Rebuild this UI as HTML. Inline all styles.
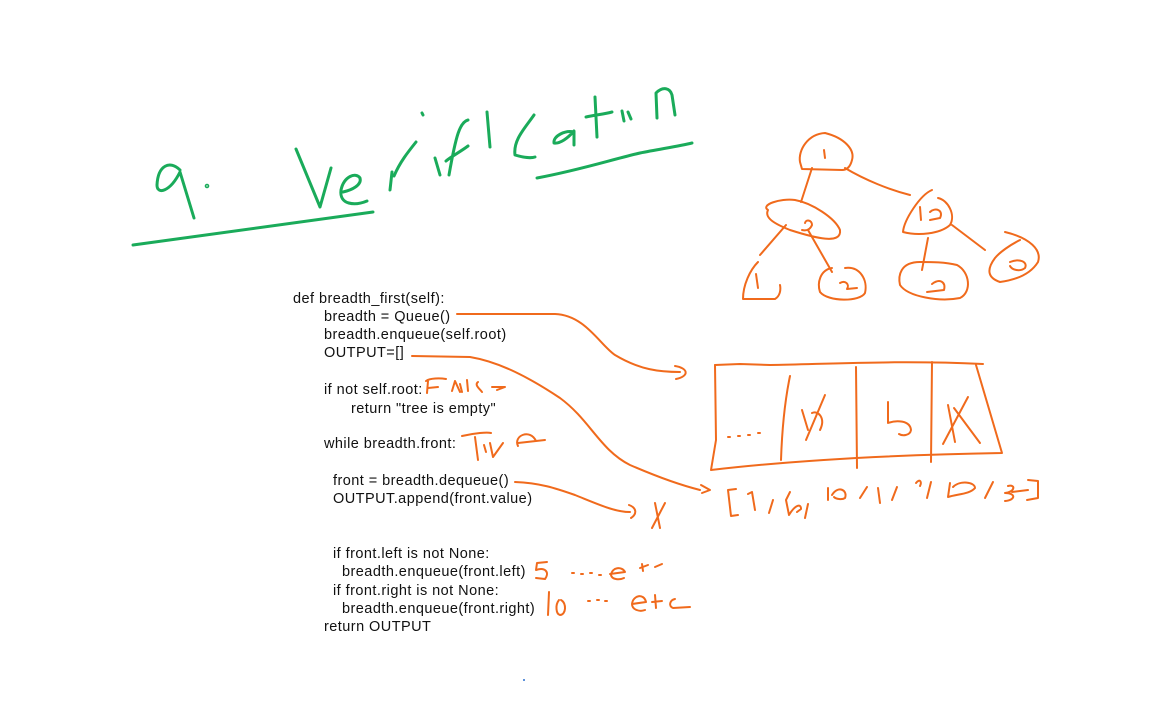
<!DOCTYPE html>
<html><head><meta charset="utf-8"><style>
html,body{margin:0;padding:0;background:#fff;width:1174px;height:713px;overflow:hidden}
svg{position:absolute;left:0;top:0}
.code{font-family:"Liberation Sans",sans-serif;font-size:14.5px;fill:#111;letter-spacing:0.45px}
.g{stroke:#1aab5a;stroke-width:3;fill:none;stroke-linecap:round;stroke-linejoin:round}
.o{stroke:#f06a1c;stroke-width:2;fill:none;stroke-linecap:round;stroke-linejoin:round}
.hid{font-family:"Liberation Sans",sans-serif;font-size:10px;fill:#fff;fill-opacity:0.01}
</style></head><body>
<svg width="1174" height="713" viewBox="0 0 1174 713">
<text class="hid" x="300" y="120">9. Verification</text>
<text class="hid" x="430" y="375">False</text>
<text class="hid" x="470" y="440">True</text>
<text class="hid" x="740" y="505">[1,5,10,1,2,20,30]</text>
<text class="hid" x="570" y="575">5 ... etc</text>
<text class="hid" x="580" y="605">10 ... etc</text>
<!-- title -->
<g class="g">
<path d="M180,170 C170,160 158,165 157,185 C157,195 170,192 180,172 L194,218"/>
<circle cx="207" cy="186" r="0.8"/>
<path d="M133,245 L373,212"/>
<path d="M296,149 L320,207 L331,168"/>
<path d="M343,192 C352,190 362,185 360,178 C356,172 344,176 341,190 C339,205 355,206 367,201"/>
<path d="M390,190 L392,172 M394,176 C400,162 408,152 416,142"/>
<path d="M435,158 L440,175 M422,113 L423,115"/>
<path d="M468,120 C460,122 456,135 449,175 M446,161 C452,156 460,152 468,146"/>
<path d="M487,112 L490,147"/>
<path d="M534,115 C525,128 513,140 515,155 C525,158 532,158 535,157"/>
<path d="M574,132 C565,130 553,136 554,143 C560,144 568,138 574,131 L574,145"/>
<path d="M595,97 L597,137 M586,117 C595,115 605,114 612,112"/>
<path d="M622,111 L624,121 M628,112 L631,119"/>
<path d="M657,118 L656,93 C663,86 670,88 672,95 L675,115"/>
<path d="M537,178 C580,170 610,160 640,153 C660,149 680,146 692,143"/>
</g>
<!-- code -->
<g class="code">
<text x="293" y="303">def breadth_first(self):</text>
<text x="324" y="321">breadth = Queue()</text>
<text x="324" y="339">breadth.enqueue(self.root)</text>
<text x="324" y="357">OUTPUT=[]</text>
<text x="324" y="394">if not self.root:</text>
<text x="351" y="413">return "tree is empty"</text>
<text x="324" y="448">while breadth.front:</text>
<text x="333" y="485">front = breadth.dequeue()</text>
<text x="333" y="503">OUTPUT.append(front.value)</text>
<text x="333" y="558">if front.left is not None:</text>
<text x="342" y="576">breadth.enqueue(front.left)</text>
<text x="333" y="595">if front.right is not None:</text>
<text x="342" y="613">breadth.enqueue(front.right)</text>
<text x="324" y="631">return OUTPUT</text>
</g>
<circle cx="524" cy="680" r="1" fill="#2a6fd0"/>
<g class="o">
<path d="M457,314 L555,314 C585,315 600,345 615,355 C640,370 660,372 680,372"/>
<path d="M675,366 C688,368 690,376 676,379"/>
<path d="M412,356 L470,357 C500,362 530,378 560,398 C590,420 600,450 630,465 C660,478 680,485 700,490"/>
<path d="M701,485 L710,490 L702,493"/>
<path d="M515,482 C540,483 555,488 575,495 C600,505 615,512 630,512"/>
<path d="M629,505 C637,508 637,514 631,518"/>
<path d="M655,503 L660,528 M665,503 L652,528"/>
<path d="M426,381 C430,378 440,378 446,379 M428,381 L427,393 M428,388 L438,387"/>
<path d="M452,391 L455,381 L460,392 M460,384 L462,392 M467,380 L468,391"/>
<path d="M478,382 C474,385 480,389 482,392 M492,387 L505,387 L497,390"/>
<path d="M462,436 C475,433 487,432 491,433 M475,437 L478,460 M484,445 L486,452 M490,443 L493,457 L503,443"/>
<path d="M518,446 C513,436 530,428 536,441 L518,443 L545,440"/>
<path d="M547,562 L537,563 L536,570 C545,567 550,572 545,579 L536,578"/>
<path d="M572,573 L574,573 M581,574 L583,574 M590,573 L592,573 M599,575 L601,575"/>
<path d="M610,574 L625,572 C622,566 612,567 611,575 C612,580 620,580 624,578"/>
<path d="M642,564 L643,571 M640,568 L648,565 M655,567 L662,564"/>
<path d="M549,592 L548,615 M559,600 C555,605 556,614 560,615 C566,615 567,603 561,600"/>
<path d="M588,601 L590,601 M597,600 L599,600 M605,601 L607,601"/>
<path d="M632,604 L646,602 C644,593 633,595 632,604 C632,610 640,612 645,610"/>
<path d="M655,595 L656,608 M652,602 L662,601 M675,599 C670,600 668,606 673,608 L690,607"/>
<path d="M800,162 C798,150 808,134 825,133 C845,138 855,150 852,160 C850,168 846,170 842,170 L802,169 Z"/>
<path d="M824,150 L825,158"/>
<path d="M812,168 L801,202 M845,168 C865,180 890,190 910,195"/>
<path d="M768,210 C760,205 780,198 795,200 C812,203 835,218 840,230 C842,245 815,238 790,230 C775,224 764,218 768,210"/>
<path d="M805,223 C806,219 812,220 812,225 C810,230 806,231 802,230"/>
<path d="M786,225 L760,255 M808,230 L832,272"/>
<path d="M758,262 C750,270 743,285 743,299 L775,299 C780,296 781,290 780,285"/>
<path d="M756,274 L758,288"/>
<path d="M832,268 C820,270 817,283 820,292 C828,302 860,302 865,293 C868,280 860,266 845,268"/>
<path d="M840,283 C845,280 850,284 847,289 L857,288"/>
<path d="M932,190 C920,195 904,220 903,232 C918,236 940,234 950,225 C956,215 948,200 938,198"/>
<path d="M920,207 L921,220 M930,212 C935,207 944,210 940,218 L930,220"/>
<path d="M928,238 L922,270 M952,225 L985,250"/>
<path d="M920,262 C900,262 898,276 900,285 C908,297 940,302 960,298 C972,292 970,272 957,265 C945,262 932,262 920,262"/>
<path d="M932,284 C940,278 946,282 944,290 L927,292"/>
<path d="M1005,232 C1030,238 1042,250 1038,262 C1030,275 1015,280 1000,282 C988,278 986,270 995,258 C1000,252 1010,245 1020,240"/>
<path d="M1010,262 C1020,258 1028,262 1025,268 C1020,272 1012,270 1010,266"/>
<path d="M715,365 L740,364 L770,365 C830,364 900,360 983,364"/>
<path d="M715,365 L716,440 L711,470 C780,462 880,455 1002,453 L976,365"/>
<path d="M790,376 C785,400 782,430 781,460"/>
<path d="M856,367 L857,468 M932,362 L931,462"/>
<path d="M728,437 L730,437 M738,436 L740,436 M748,435 L750,435 M758,433 L760,433"/>
<path d="M802,410 L808,430 M812,413 C818,410 826,418 820,430 M825,395 L806,440"/>
<path d="M888,402 L888,423 C896,420 910,420 911,430 C910,436 902,436 899,434"/>
<path d="M948,405 L955,442 M943,444 L968,397 M954,408 L980,443"/>
<path d="M736,489 L728,490 L731,516 L738,515"/>
<path d="M748,494 L752,492 L755,510"/>
<path d="M769,513 L773,500"/>
<path d="M790,492 L786,500 L789,515 C795,505 801,503 801,509 L797,512"/>
<path d="M805,518 L808,504"/>
<path d="M828,488 L828,500 M832,495 C838,485 848,490 845,498 C842,500 836,499 834,497"/>
<path d="M860,498 L867,487 M878,488 L880,503 M897,487 L892,500"/>
<path d="M916,483 C920,478 922,482 920,486 M931,482 L927,498"/>
<path d="M950,483 L948,497 C958,494 970,494 975,488 C975,482 960,480 953,487"/>
<path d="M985,498 L993,482"/>
<path d="M1008,486 C1016,484 1015,492 1005,493 C1016,493 1016,500 1005,501 M1012,492 L1028,490"/>
<path d="M1028,480 L1038,481 L1038,498 L1027,500"/>
</g>
</svg>
</body></html>
